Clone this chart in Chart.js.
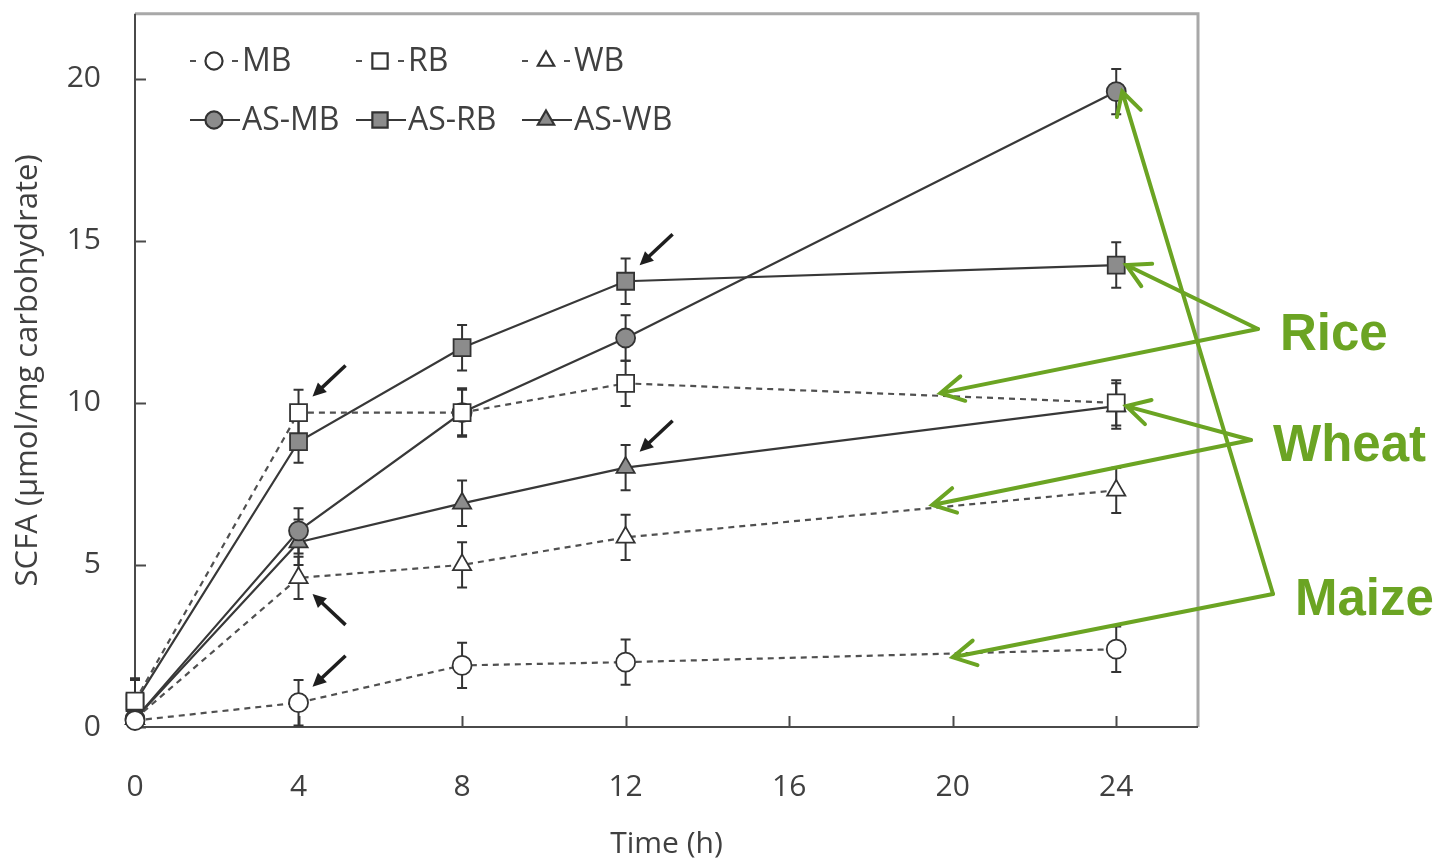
<!DOCTYPE html>
<html>
<head>
<meta charset="utf-8">
<title>SCFA over time</title>
<script src="https://cdn.jsdelivr.net/npm/chart.js@4.4.1/dist/chart.umd.min.js"></script>
<style>
  html, body { margin: 0; padding: 0; background: #fff; }
  #wrap { width: 1439px; height: 862px; position: relative; }
</style>
</head>
<body>
<div id="wrap"><canvas id="scfaChart" width="1439" height="862"></canvas></div>
<script>
// sampling times (h)
const times = [0, 4, 8, 12, 24];

// SCFA, µmol/mg carbohydrate (mean and error)
const MB = [0.2, 0.75, 1.9, 2.0, 2.4];
const MB_err = [0.3, 0.7, 0.7, 0.7, 0.7];
const RB = [0.8, 9.7, 9.7, 10.6, 10.0];
const RB_err = [0.7, 0.7, 0.7, 0.7, 0.7];
const WB = [0.25, 4.6, 5.0, 5.85, 7.3];
const WB_err = [0.3, 0.65, 0.7, 0.7, 0.7];
const AS_MB = [0.25, 6.05, 9.7, 12.0, 19.6];
const AS_MB_err = [0.3, 0.7, 0.75, 0.7, 0.7];
const AS_RB = [0.75, 8.8, 11.7, 13.75, 14.25];
const AS_RB_err = [0.7, 0.65, 0.7, 0.7, 0.7];
const AS_WB = [0.25, 5.7, 6.9, 8.0, 9.9];
const AS_WB_err = [0.3, 0.7, 0.7, 0.7, 0.7];

const xTicks = [0, 4, 8, 12, 16, 20, 24];
const yTicks = [0, 5, 10, 15, 20];

// small black arrows: [dataset index, point index, direction]
const blackArrows = [[1, 1, -1], [2, 1, 1], [0, 1, -1], [4, 3, -1], [5, 3, -1]];

// green call-outs: label, target points as {x, y} in data units
const callouts = [
  { text: "Rice", targets: [{ x: 24, y: AS_RB[4], dx: 10 }, { x: 19.7, y: 10.3, dx: 0 }] },
  { text: "Wheat", targets: [{ x: 24, y: AS_WB[4], dx: 10 }, { x: 19.5, y: 6.85, dx: 0 }] },
  { text: "Maize", targets: [{ x: 24, y: AS_MB[4], dx: 6 }, { x: 20.0, y: 2.15, dx: 0 }] }
];
const calloutPos = [[1280, 350], [1273, 461], [1295, 615]];

const FONT = "'Open Sans', 'DejaVu Sans', sans-serif";
const TEXT = "#404040";
const GREEN = "#6ba423";

function pts(vals) {
  return times.map((t, i) => ({ x: t, y: vals[i] }));
}

function series(label, vals, errs, style, filled, dashed, radius) {
  return {
    label: label,
    data: pts(vals),
    errors: errs,
    borderColor: dashed ? "#505050" : "#383838",
    borderWidth: 2.2,
    borderDash: dashed ? [6, 5] : [],
    pointStyle: style,
    pointRadius: radius,
    pointHoverRadius: radius,
    pointBackgroundColor: filled ? "#8c8c8c" : "#fff",
    pointBorderColor: "#333",
    pointBorderWidth: 1.8,
    tension: 0,
    fill: false,
    clip: false
  };
}

const frame = {
  id: "frame",
  beforeDatasetsDraw(chart) {
    const { ctx, chartArea: a, scales } = chart;
    ctx.save();
    // light top/right box
    ctx.strokeStyle = "#a8a8a8";
    ctx.lineWidth = 3;
    ctx.beginPath();
    ctx.moveTo(a.left, a.top); ctx.lineTo(a.right, a.top); ctx.lineTo(a.right, a.bottom);
    ctx.stroke();
    // axes
    ctx.strokeStyle = "#4a4a4a";
    ctx.lineWidth = 2;
    ctx.beginPath();
    ctx.moveTo(a.left, a.top); ctx.lineTo(a.left, a.bottom); ctx.lineTo(a.right, a.bottom);
    ctx.stroke();
    // inward tick marks
    ctx.beginPath();
    xTicks.forEach(v => {
      const px = Math.round(scales.x.getPixelForValue(v)) + 0.5;
      ctx.moveTo(px, a.bottom); ctx.lineTo(px, a.bottom - 11);
    });
    yTicks.forEach(v => {
      const py = Math.round(scales.y.getPixelForValue(v)) + 0.5;
      ctx.moveTo(a.left, py); ctx.lineTo(a.left + 11, py);
    });
    ctx.stroke();

    // error bars, under the markers
    ctx.strokeStyle = "#333";
    ctx.lineWidth = 2;
    chart.data.datasets.forEach((ds, di) => {
      const meta = chart.getDatasetMeta(di);
      meta.data.forEach((pt, i) => {
        const e = ds.errors[i];
        const v = ds.data[i].y;
        const top = scales.y.getPixelForValue(v + e);
        const bot = scales.y.getPixelForValue(Math.max(0, v - e));
        ctx.beginPath();
        ctx.moveTo(pt.x, top); ctx.lineTo(pt.x, bot);
        ctx.moveTo(pt.x - 5, top); ctx.lineTo(pt.x + 5, top);
        ctx.moveTo(pt.x - 5, bot); ctx.lineTo(pt.x + 5, bot);
        ctx.stroke();
      });
    });
    ctx.restore();
  }
};

function drawMarker(ctx, ds, x, y) {
  Chart.helpers.drawPoint(ctx, {
    pointStyle: ds.pointStyle,
    radius: ds.pointRadius * 0.9,
    borderWidth: ds.pointBorderWidth,
    rotation: 0
  }, x, y);
}

const notes = {
  id: "notes",
  afterDraw(chart) {
    const { ctx, scales } = chart;
    ctx.save();

    // legend, 3 columns x 2 rows inside the plot
    const colX = [190, 356, 522];
    const rowY = [61, 120];
    ctx.font = "32px " + FONT;
    ctx.textBaseline = "middle";
    chart.data.datasets.forEach((ds, i) => {
      const x = colX[i % 3];
      const y = rowY[Math.floor(i / 3)];
      ctx.strokeStyle = ds.borderColor;
      ctx.lineWidth = 2.2;
      ctx.beginPath();
      if (ds.borderDash.length) {
        ctx.moveTo(x, y); ctx.lineTo(x + 6, y);
        ctx.moveTo(x + 42, y); ctx.lineTo(x + 48, y);
      } else {
        ctx.moveTo(x, y); ctx.lineTo(x + 50, y);
      }
      ctx.stroke();
      ctx.fillStyle = ds.pointBackgroundColor;
      ctx.strokeStyle = ds.pointBorderColor;
      drawMarker(ctx, ds, x + 24, y);
      ctx.fillStyle = TEXT;
      ctx.textAlign = "left";
      ctx.fillText(ds.label, x + 52, y + 1);
    });

    // small black arrows pointing at the first sampling points
    ctx.fillStyle = "#1e1e1e";
    ctx.strokeStyle = "#1e1e1e";
    ctx.lineWidth = 3.5;
    blackArrows.forEach(([di, pi, dir]) => {
      const p = chart.getDatasetMeta(di).data[pi];
      const tx = p.x + 14, ty = p.y + dir * 16;
      const sx = p.x + 47, sy = p.y + dir * 47;
      const ang = Math.atan2(ty - sy, tx - sx);
      ctx.beginPath();
      ctx.moveTo(sx, sy);
      ctx.lineTo(tx - Math.cos(ang) * 9, ty - Math.sin(ang) * 9);
      ctx.stroke();
      ctx.beginPath();
      ctx.moveTo(tx, ty);
      ctx.lineTo(tx - Math.cos(ang - 0.45) * 15, ty - Math.sin(ang - 0.45) * 15);
      ctx.lineTo(tx - Math.cos(ang + 0.45) * 15, ty - Math.sin(ang + 0.45) * 15);
      ctx.closePath();
      ctx.fill();
    });

    // green call-outs
    ctx.strokeStyle = GREEN;
    ctx.fillStyle = GREEN;
    ctx.lineWidth = 4;
    ctx.lineCap = "round";
    ctx.font = "bold 51px 'Liberation Sans', Arial, sans-serif";
    ctx.textBaseline = "alphabetic";
    callouts.forEach((c, k) => {
      const [lx, ly] = calloutPos[k];
      ctx.fillText(c.text, lx, ly);
      const vx = lx - 22, vy = ly - 21;
      c.targets.forEach(t => {
        const tx = scales.x.getPixelForValue(t.x) + t.dx;
        const ty = scales.y.getPixelForValue(t.y);
        ctx.beginPath();
        ctx.moveTo(vx, vy); ctx.lineTo(tx, ty);
        const ang = Math.atan2(ty - vy, tx - vx);
        ctx.moveTo(tx - Math.cos(ang - 0.5) * 26, ty - Math.sin(ang - 0.5) * 26);
        ctx.lineTo(tx, ty);
        ctx.lineTo(tx - Math.cos(ang + 0.5) * 26, ty - Math.sin(ang + 0.5) * 26);
        ctx.stroke();
      });
    });
    ctx.restore();
  }
};

new Chart(document.getElementById("scfaChart"), {
  type: "line",
  data: {
    datasets: [
      series("MB", MB, MB_err, "circle", false, true, 9.5),
      series("RB", RB, RB_err, "rect", false, true, 12),
      series("WB", WB, WB_err, "triangle", false, true, 10.5),
      series("AS-MB", AS_MB, AS_MB_err, "circle", true, false, 9.5),
      series("AS-RB", AS_RB, AS_RB_err, "rect", true, false, 12),
      series("AS-WB", AS_WB, AS_WB_err, "triangle", true, false, 10.5)
    ]
  },
  options: {
    responsive: false,
    animation: false,
    layout: { padding: { top: 13, right: 241, bottom: 0, left: 0 } },
    plugins: {
      legend: { display: false },
      tooltip: { enabled: false }
    },
    scales: {
      x: {
        type: "linear",
        min: 0,
        max: 26,
        afterBuildTicks: s => { s.ticks = xTicks.map(v => ({ value: v })); },
        afterFit: s => { s.height = 135; s.paddingLeft = 0; s.paddingRight = 0; },
        grid: { display: false, drawTicks: false },
        border: { display: false },
        ticks: { color: TEXT, font: { family: FONT, size: 30 }, padding: 42 },
        title: {
          display: true,
          text: "Time (h)",
          color: TEXT,
          font: { family: FONT, size: 30 },
          padding: { top: 0, bottom: 0 }
        }
      },
      y: {
        min: 0,
        max: 22,
        afterBuildTicks: s => { s.ticks = yTicks.map(v => ({ value: v })); },
        afterFit: s => { s.width = 135; s.paddingTop = 0; s.paddingBottom = 0; },
        grid: { display: false, drawTicks: false },
        border: { display: false },
        ticks: { color: TEXT, font: { family: FONT, size: 30 }, padding: 34 },
        title: {
          display: true,
          text: "SCFA (µmol/mg carbohydrate)",
          color: TEXT,
          font: { family: FONT, size: 31 },
          padding: { top: 10, bottom: 0 }
        }
      }
    }
  },
  plugins: [frame, notes]
});
</script>
</body>
</html>
